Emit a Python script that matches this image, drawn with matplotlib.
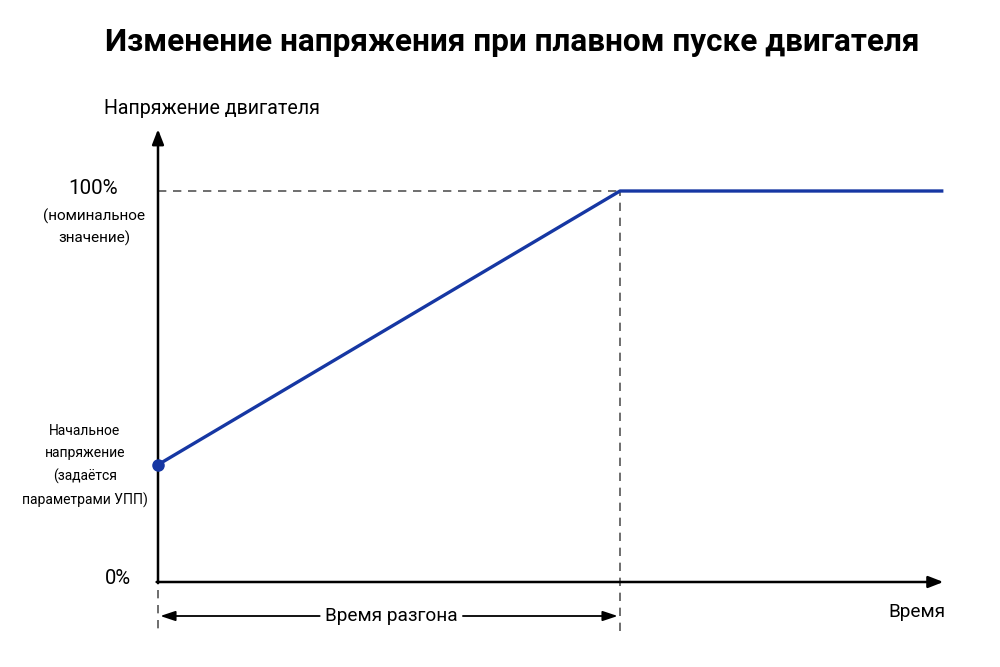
import matplotlib
matplotlib.use("Agg")
import matplotlib.pyplot as plt

# Data
time = [0.0, 1.0, 1.70]          # in units of acceleration time
voltage = [30, 100, 100]          # % of nominal voltage
start_voltage = 30
nominal = 100
ramp_end = 1.0

title = "Изменение напряжения при плавном пуске двигателя"
ylabel = "Напряжение двигателя"
xlabel = "Время"
ramp_label = "Время разгона"
lbl_100 = "100%"
lbl_100_sub = "(номинальное\nзначение)"
lbl_start = "Начальное\nнапряжение\n(задаётся\nпараметрами УПП)"
lbl_0 = "0%"

plt.rcParams['font.family'] = ['Roboto', 'DejaVu Sans']

fig = plt.figure(figsize=(10, 6.67), dpi=100)
ax = fig.add_axes([0, 0, 1, 1])
ax.set_axis_off()
pxu = 462.0   # px per time unit
pyu = 3.91    # px per %
ax.set_xlim(-158 / pxu, (1000 - 158) / pxu)
ax.set_ylim(-(667 - 582) / pyu, 582 / pyu)

blue = '#1637a3'
gray = '#555555'

# axes arrows
ax.annotate('', xy=(0, 115.8), xytext=(0, -0.3),
            arrowprops=dict(arrowstyle='-|>,head_length=0.9,head_width=0.35', color='black', lw=1.8,
                            shrinkA=0, shrinkB=0))
ax.annotate('', xy=(1.70, 0), xytext=(-0.003, 0),
            arrowprops=dict(arrowstyle='-|>,head_length=0.9,head_width=0.35', color='black', lw=1.8,
                            shrinkA=0, shrinkB=0))

# dashed guides
ax.plot([0, ramp_end], [nominal, nominal], ls=(0, (5, 4)), color=gray, lw=1.2)
ax.plot([ramp_end, ramp_end], [-12.5, nominal], ls=(0, (5, 4)), color=gray, lw=1.2)
ax.plot([0, 0], [-2, -12.5], ls=(0, (5, 4)), color=gray, lw=1.2)

# main line
ax.plot(time, voltage, color=blue, lw=2.4, solid_capstyle='butt', zorder=5)
ax.plot([0], [start_voltage], 'o', color=blue, ms=8, zorder=6)

# double arrow for ramp time
ya = -(616 - 582) / pyu
ax.annotate('', xy=(0.005, ya), xytext=(0.35, ya),
            arrowprops=dict(arrowstyle='-|>,head_length=0.9,head_width=0.3', color='black', lw=1.3,
                            shrinkA=0, shrinkB=0))
ax.annotate('', xy=(0.995, ya), xytext=(0.66, ya),
            arrowprops=dict(arrowstyle='-|>,head_length=0.9,head_width=0.3', color='black', lw=1.3,
                            shrinkA=0, shrinkB=0))
ax.text(0.505, ya, ramp_label, ha='center', va='center', fontsize=13.7)

# texts in figure pixels
def ft(x, y, s, **kw):
    fig.text(x / 1000, 1 - y / 667, s, **kw)

ft(512, 42, title, ha='center', va='center', fontsize=22.7, fontweight='bold')
ft(104, 108, ylabel, ha='left', va='center', fontsize=14.1)
ft(93, 189, lbl_100, ha='center', va='center', fontsize=14.8)
ft(94, 227, lbl_100_sub, ha='center', va='center', fontsize=11, linespacing=1.55)
ft(85, 466, lbl_start, ha='center', va='center', fontsize=10, linespacing=1.75)
ft(118, 578, lbl_0, ha='center', va='center', fontsize=14.5)
ft(917, 612, xlabel, ha='center', va='center', fontsize=13.7)

fig.savefig('out.png', dpi=100, facecolor='white')
